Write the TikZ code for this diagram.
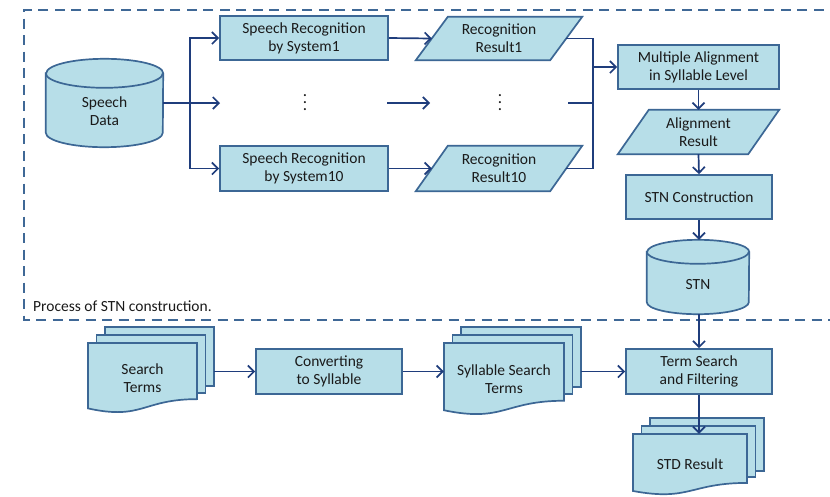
\documentclass[tikz,border=0pt]{standalone}
\usepackage{fontspec}
\setmainfont{Carlito}
\usetikzlibrary{arrows.meta,calc}
\definecolor{fillc}{HTML}{B7DEE8}
\definecolor{bordc}{HTML}{3C6795}
\definecolor{arrc}{HTML}{1F3D7C}
\definecolor{framec}{HTML}{3F6896}
\definecolor{txtc}{HTML}{1A1A1A}
\pgfdeclarelayer{bg}
\pgfsetlayers{bg,main}
\newcommand{\txtfont}{\fontsize{15.5}{18}\selectfont}
\newcommand{\myvdots}{\vbox{\fontsize{17}{17}\selectfont\baselineskip7pt\lineskiplimit0pt\hbox{.}\hbox{.}\hbox{.}}}
\newcommand{\parapath}[2]{%
  \path[shp] ([xshift=-#2]#1.south west) -- ([xshift=#2]#1.north west) -- ([xshift=#2]#1.north east) -- ([xshift=-#2]#1.south east) -- cycle;}
\newcommand{\cylpath}[3]{%
  \path[shp] ([yshift=-#3]#1.north west) -- ([yshift=#3]#1.south west) arc[start angle=180,end angle=360,x radius=#2,y radius=#3] -- ([yshift=-#3]#1.north east) arc[start angle=0,end angle=180,x radius=#2,y radius=#3] -- cycle;
  \draw[shpline] ([yshift=-#3]#1.north west) arc[start angle=180,end angle=360,x radius=#2,y radius=#3];}
% x0, top, width, height
\newcommand{\docstack}[4]{%
  \path[shp] ({#1+17},{#2-16}) rectangle ({#1+#3+17},{#2+0.61*#4});
  \path[shp] ({#1+8.5},{#2-8}) rectangle ({#1+#3+8.5},{#2+0.71*#4});
  \path[shp] (#1,#2) -- ({#1+#3},#2) -- ({#1+#3},{#2+0.802*#4}) .. controls ({#1+0.5*#3},{#2+0.802*#4}) and ({#1+0.5*#3},{#2+1.107*#4}) .. (#1,{#2+0.934*#4}) -- cycle;}
\tikzset{
  shp/.style={draw=bordc, fill=fillc, line width=1.7pt, line join=miter},
  shpline/.style={draw=bordc, line width=1.7pt},
  txt/.style={text=txtc, font=\txtfont, align=center, inner sep=0pt},
  boxnode/.style={shp, txt, rectangle, minimum width=146pt, minimum height=44pt},
  bound/.style={txt, rectangle, draw=none},
  conn/.style={draw=arrc, line width=1.7pt},
  arr/.style={conn, -{Straight Barb[length=6pt,width=12pt,line width=1.7pt]}},
  frame/.style={draw=framec, line width=2pt, dash pattern=on 10pt off 6.5pt}
}
\begin{document}
\begin{tikzpicture}[x=1pt,y=-1pt]
\useasboundingbox (0,0) rectangle (830,496);

% dashed frame
\draw[frame] (840,9.5) -- (24,9.5) -- (24,320) -- (840,320);
\node[txt, anchor=west] (plabel) at (33,306) {Process of STN construction.};

% speech data cylinder
\node[bound, minimum width=117pt, minimum height=88pt] (sdc) at (104.5,103) {};
\node[txt] (sdt) at (104.5,111) {Speech\\Data};

% recognisers
\node[boxnode, minimum width=168pt] (sr1) at (304,38) {Speech Recognition\\by System1};
\node[boxnode, minimum width=168pt, minimum height=45pt] (sr10) at (304,168.5) {Speech Recognition\\by System10};
\node[txt] (dots1) at (305,103) {\myvdots};

% recognition results
\node[bound, minimum width=134pt, minimum height=43pt] (rr1) at (499,38.5) {Recognition\\Result1};
\node[bound, minimum width=134pt, minimum height=45pt] (rr10) at (499,168.5) {Recognition\\Result10};
\node[txt] (dots2) at (500,103) {\myvdots};

% right column
\node[boxnode, minimum width=161pt] (ma) at (698.5,67) {Multiple Alignment\\in Syllable Level};
\node[bound, minimum width=130pt, minimum height=44pt] (ar) at (698.5,132) {Alignment\\Result};
\node[boxnode] (stnc) at (699,197) {STN Construction};
\node[bound, minimum width=102pt, minimum height=74pt] (stn) at (698,277) {};
\node[txt] (stnt) at (698,285) {STN};
\node[boxnode, minimum height=45pt] (ts) at (699,371.5) {Term Search\\and Filtering};

% bottom row
\node[bound, minimum width=109pt, minimum height=70pt] (st) at (142.5,378) {Search\\Terms};
\node[boxnode, minimum height=45pt] (conv) at (329,371.5) {Converting\\to Syllable};
\node[bound, minimum width=120pt, minimum height=72pt] (sst) at (504,379) {Syllable Search\\Terms};
\node[bound, minimum width=114pt, minimum height=61pt] (std) at (690,464.5) {STD Result};

\begin{pgfonlayer}{bg}
  \fill[white] (0,0) rectangle (830,496);
  \cylpath{sdc}{58.5pt}{14.5pt}
  \cylpath{stn}{51pt}{12pt}
  \parapath{rr1}{16pt}
  \parapath{rr10}{16pt}
  \parapath{ar}{15.5pt}
  \docstack{88}{343}{109}{70}
  \docstack{444}{343}{120}{72}
  \docstack{633}{434}{114}{61}
\end{pgfonlayer}

% junction points
\coordinate (j1) at (190,103);
\coordinate (m1) at (220,103);
\coordinate (m2) at (387,103);
\coordinate (m3) at (430,103);
\coordinate (m4) at (568,103);
\coordinate (j2) at (593,67);
\coordinate (stR) at (214,371.5);
\coordinate (sstR) at (581,371.5);

% connectors
\draw[conn, line width=2.6pt] (sdc.east) -- (j1);
\draw[arr] (sdc.east) -- (m1);
\draw[arr] (j1) |- (sr1.west);
\draw[arr] (j1) |- (sr10.west);
\draw[arr] (sr1.east) -- (rr1.west);
\draw[arr] (sr10.east) -- (rr10.west);
\draw[arr] (m2) -- (m3);
\draw[conn] (rr1.east) -| (j2);
\draw[conn] (rr10.east) -| (j2);
\draw[conn] (m4) -- (m4 -| j2);
\draw[arr] (j2) -- (ma.west);
\draw[arr] (ma.south) -- (ar.north);
\draw[arr] (ar.south) -- (stnc.north);
\draw[arr] (stnc.south) -- (stnc.south |- stn.north);
\draw[arr] (stnc.south |- stn.south) -- (ts.north);
\draw[arr] (ts.south) -- (ts.south |- std.north);
\draw[arr] (stR) -- (conv.west);
\draw[arr] (conv.east) -- (conv.east -| sst.west);
\draw[arr] (sstR) -- (ts.west);
\end{tikzpicture}
\end{document}
